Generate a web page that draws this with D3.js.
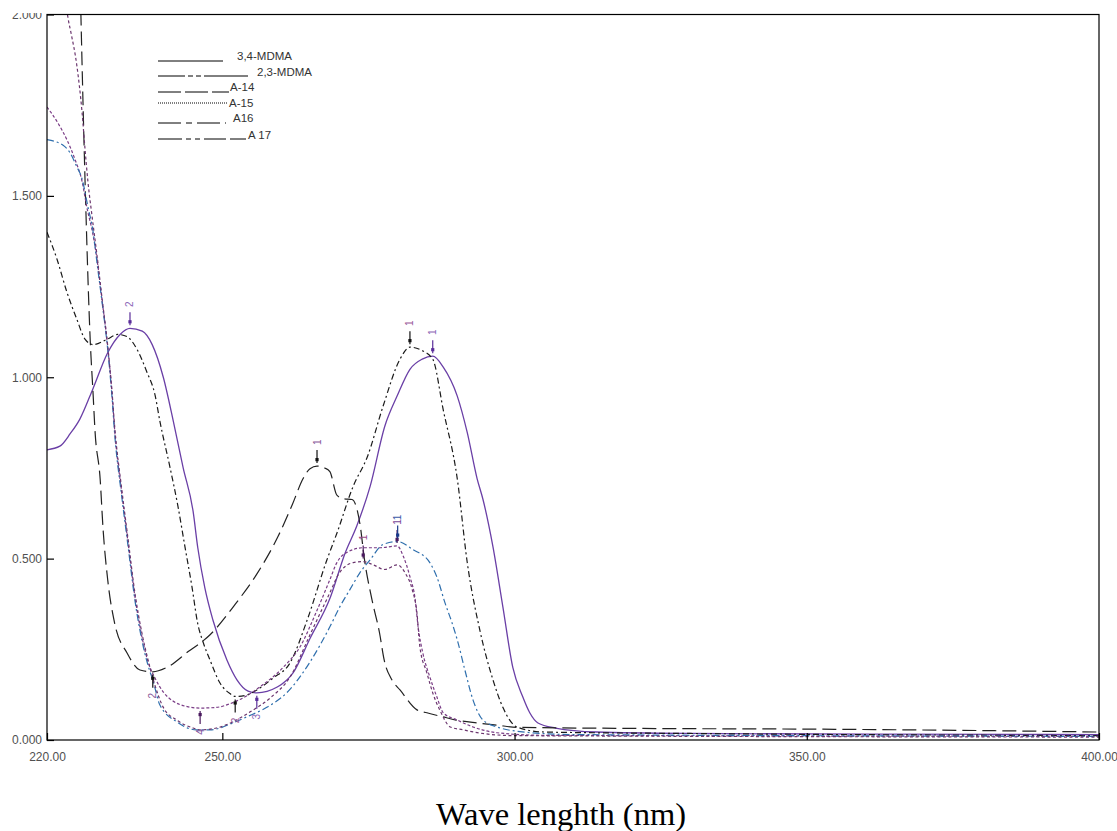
<!DOCTYPE html>
<html>
<head>
<meta charset="utf-8">
<script src="https://cdn.jsdelivr.net/npm/d3@7"></script>
<style>
  html, body { margin: 0; padding: 0; background: #fff; }
  svg { display: block; }
</style>
</head>
<body>
<svg id="chart" width="1117" height="831"></svg>
<script>
// ---------------- DATA (wavelength nm, absorbance) ----------------
const xTicks = [220, 250, 300, 350, 400];
const yTicks = [0, 0.5, 1.0, 1.5, 2.0];
const xTitle = "Wave lenghth (nm)";

const legendNames = ["3,4-MDMA", "2,3-MDMA", "A-14", "A-15", "A16", "A 17"];

// 3,4-MDMA (solid purple)
const mdma34 = [[220,0.80],[222.2,0.81],[224,0.845],[225.6,0.884],[227.9,0.97],[230.3,1.065],[232.5,1.118],[234.2,1.135],[236.3,1.127],[238,1.09],[239.9,1.0],[241.6,0.88],[243.3,0.75],[245,0.63],[245.8,0.53],[247,0.42],[248.4,0.33],[250.8,0.22],[252.5,0.166],[254.4,0.135],[255.9,0.13],[259.4,0.146],[262.1,0.185],[265,0.28],[268.4,0.39],[271,0.515],[273,0.59],[275.3,0.70],[277.8,0.865],[279.9,0.948],[282.1,1.022],[284.2,1.05],[286,1.058],[287.8,1.028],[290.2,0.948],[291.9,0.848],[293.6,0.72],[294.6,0.663],[296.3,0.533],[298,0.367],[299.7,0.20],[301.4,0.119],[302.6,0.075],[304,0.047],[307,0.033],[314,0.022],[330,0.018],[360,0.016],[400,0.015]];

// 2,3-MDMA (black dash-dot)
const mdma23 = [[220,1.40],[221.7,1.326],[223.4,1.235],[225.1,1.16],[226.5,1.105],[227.9,1.09],[230.3,1.105],[232.1,1.118],[233.7,1.112],[235.4,1.077],[237.1,1.014],[238.5,0.95],[239.3,0.88],[241,0.755],[242.4,0.645],[243.6,0.533],[244.8,0.423],[245.8,0.32],[246.7,0.27],[247.9,0.22],[249.6,0.157],[251.3,0.128],[252.2,0.12],[254.2,0.124],[255.9,0.138],[258.7,0.171],[261.6,0.213],[264.5,0.33],[267.9,0.497],[269.6,0.57],[272.4,0.70],[274.8,0.78],[277.5,0.92],[280.4,1.05],[282.1,1.083],[284,1.075],[286,1.05],[287.8,0.91],[290.2,0.72],[291.9,0.49],[294.1,0.30],[296.3,0.166],[298,0.09],[300.4,0.036],[305,0.022],[330,0.018],[400,0.012]];

// A-14 (black long dash)
const a14 = [[225.2,2.45],[225.8,2.0],[226.6,1.49],[227.4,1.10],[227.9,0.95],[228.2,0.856],[229.1,0.718],[229.6,0.58],[230.4,0.44],[231.6,0.32],[233.7,0.24],[235.9,0.193],[238.1,0.188],[240.5,0.20],[244.1,0.243],[247.9,0.29],[252,0.37],[256,0.46],[259.5,0.56],[262,0.65],[263.8,0.72],[265,0.748],[266.2,0.755],[267.5,0.75],[268.4,0.74],[269.6,0.675],[270.8,0.665],[272.2,0.663],[273.6,0.59],[274.3,0.50],[275.6,0.387],[276.9,0.295],[277.7,0.22],[279,0.166],[280.4,0.138],[283.3,0.083],[285,0.075],[287.7,0.064],[290,0.055],[293.5,0.047],[297,0.041],[300.4,0.035],[320,0.032],[350,0.03],[380,0.026],[400,0.022]];

// A-15 (purple dotted)
const a15 = [[220,1.745],[221.9,1.70],[223.4,1.655],[224.8,1.60],[226,1.54],[226.8,1.47],[227.9,1.39],[228.6,1.32],[229.4,1.215],[230.3,1.097],[231.1,0.96],[231.6,0.85],[232.8,0.68],[233.9,0.54],[235,0.40],[236.3,0.28],[237.3,0.215],[238.5,0.17],[240,0.13],[241.5,0.108],[244,0.092],[246.2,0.088],[249,0.09],[251.8,0.103],[254.2,0.122],[256.4,0.146],[260.4,0.20],[263.3,0.257],[266,0.35],[268.4,0.442],[269.6,0.489],[271.3,0.517],[274.1,0.53],[277,0.53],[279.9,0.535],[281,0.505],[282.1,0.45],[283,0.387],[283.5,0.312],[284.3,0.24],[285.5,0.174],[286.7,0.119],[287.8,0.075],[290.2,0.055],[292.9,0.036],[297,0.02],[305,0.013],[400,0.01]];

// A16 (blue dash-dot)
const a16 = [[220,1.655],[222.7,1.64],[223.9,1.62],[225.1,1.58],[226,1.547],[227,1.47],[227.9,1.40],[228.6,1.31],[229.4,1.21],[230.3,1.09],[231.1,0.95],[231.6,0.84],[232.8,0.67],[233.9,0.53],[235,0.39],[236.3,0.27],[237.3,0.205],[238.2,0.16],[239.3,0.097],[242.2,0.05],[245.6,0.028],[247.9,0.028],[251.8,0.047],[254.2,0.064],[257.6,0.09],[261,0.13],[265,0.215],[268.4,0.312],[270.1,0.367],[271.8,0.414],[273.5,0.46],[275.3,0.497],[277.5,0.539],[280,0.547],[282.6,0.525],[285.5,0.489],[286.7,0.45],[288.1,0.378],[289.3,0.323],[290.2,0.276],[291.5,0.193],[292.9,0.11],[294.6,0.055],[297,0.036],[300,0.025],[310,0.015],[400,0.01]];

// A 17 (purple dashed)
const a17 = [[222.5,2.15],[223.6,1.99],[224.1,1.95],[225.1,1.86],[226,1.73],[226.5,1.63],[227,1.54],[227.7,1.445],[228.6,1.33],[229.4,1.22],[230.3,1.10],[231.1,0.965],[231.6,0.86],[232.8,0.69],[233.9,0.55],[235,0.41],[236.3,0.29],[237.3,0.22],[238.3,0.16],[239.9,0.09],[242.2,0.055],[245,0.033],[246.2,0.028],[249,0.033],[251.8,0.05],[254.7,0.077],[258.2,0.116],[261.6,0.174],[265,0.29],[268.4,0.406],[270,0.46],[272.4,0.489],[274.1,0.492],[275.8,0.483],[277.8,0.47],[279.9,0.483],[281.3,0.46],[282.5,0.414],[283.3,0.35],[283.8,0.257],[285,0.185],[286,0.13],[287.2,0.083],[289,0.036],[291.2,0.028],[294.1,0.019],[300,0.012],[400,0.008]];

// peak / valley markers: [series index, nm, absorbance, kind, label]
const markers = [
  [0, 234.2, 1.135, "peak", "2"],
  [0, 255.9, 0.13, "min", "3"],
  [0, 286.0, 1.058, "peak", "1"],
  [1, 252.2, 0.12, "min", "2"],
  [1, 282.1, 1.083, "peak", "1"],
  [2, 238.1, 0.188, "min", "2"],
  [2, 266.2, 0.755, "peak", "1"],
  [3, 246.2, 0.088, "min", "4"],
  [3, 279.9, 0.535, "peak", "1"],
  [4, 280.0, 0.547, "peak", "1"],
  [5, 274.1, 0.492, "peak", "1"]
];

// ---------------- STYLES ----------------
const seriesData = [mdma34, mdma23, a14, a15, a16, a17];
const seriesStyle = [
  { color: "#6a3fa6", dash: null, width: 1.3 },
  { color: "#1a1a1a", dash: "6,3,2,3", width: 1.2 },
  { color: "#222222", dash: "14,6", width: 1.2 },
  { color: "#7a3c86", dash: "3,2", width: 1.2 },
  { color: "#2f6fad", dash: "7,3,2,3", width: 1.2 },
  { color: "#6b356e", dash: "3,2.5", width: 1.2 }
];
const markerColor = ["#5a2d9a", "#111111", "#111111", "#4a1a5e", "#1a3a8a", "#4a1a5e"];
const labelColor = ["#8c66b8", "#9a5a9a", "#8a5a9a", "#7a4a9a", "#3c5aa8", "#9a4a8a"];

const legendDash = [null, "27,3,5,3,5,3,45", "23,4", "1,1", "23,5,6,5", "24,4,5,4,5,4,22,4,20"];
const legendLineY = [61, 76, 92, 103, 123, 139];
const legendTextY = [60, 76, 91, 107, 122, 139];
const legendTextX = [237, 257, 230, 229, 233, 248];
const legendLineEnd = [223, 248, 229, 228, 226, 246];

// ---------------- CHART ----------------
const svg = d3.select("#chart");
const L = 47, R = 1099, T = 14.5, B = 740;
const x = d3.scaleLinear().domain([220, 400]).range([L, R]);
const y = d3.scaleLinear().domain([0, 2]).range([B, T]);

const defs = svg.append("defs");
defs.append("clipPath").attr("id", "plotClip")
  .append("rect").attr("x", L).attr("y", T).attr("width", R - L).attr("height", B - T);
// local coords of the y-axis group (translated by L)
defs.append("clipPath").attr("id", "yLabClip")
  .append("rect").attr("x", -60).attr("y", 13).attr("width", 80).attr("height", 800);

svg.append("rect").attr("width", 1117).attr("height", 831).attr("fill", "#fff");

// curves
const line = d3.line().x(d => x(d[0])).y(d => y(d[1])).curve(d3.curveMonotoneX);
const plot = svg.append("g").attr("clip-path", "url(#plotClip)");
seriesData.forEach((data, i) => {
  const st = seriesStyle[i];
  plot.append("path")
    .datum(data)
    .attr("d", line)
    .attr("fill", "none")
    .attr("stroke", st.color)
    .attr("stroke-width", st.width)
    .attr("stroke-dasharray", st.dash)
    .attr("stroke-linejoin", "round");
});

// markers
const mg = svg.append("g");
markers.forEach(m => {
  const [si, nm, v, kind, lab] = m;
  const cx = x(nm), cy = y(v);
  const c = markerColor[si];
  const s = kind === "peak" ? -1 : 1;
  mg.append("line")
    .attr("x1", cx).attr("x2", cx)
    .attr("y1", cy + s * 3).attr("y2", cy + s * 16)
    .attr("stroke", c).attr("stroke-width", 1.2);
  mg.append("rect")
    .attr("x", cx - 1.6).attr("y", cy + s * 6.5 - 1.6)
    .attr("width", 3.2).attr("height", 3.2)
    .attr("fill", c);
  mg.append("text")
    .attr("transform", `translate(${cx},${cy + s * 24}) rotate(-90)`)
    .attr("text-anchor", "middle")
    .attr("dominant-baseline", "central")
    .attr("font-family", "Liberation Sans, Arial, sans-serif")
    .attr("font-size", 10)
    .attr("fill", labelColor[si])
    .text(lab);
});

// axes
const fontTick = "Liberation Sans, Arial, sans-serif";
const yAxis = svg.append("g")
  .attr("transform", `translate(${L},0)`)
  .attr("clip-path", "url(#yLabClip)")
  .call(d3.axisLeft(y).tickValues(yTicks).tickSize(-7).tickPadding(5).tickFormat(d3.format(".3f")));
const xAxis = svg.append("g")
  .attr("transform", `translate(0,${B})`)
  .call(d3.axisBottom(x).tickValues(xTicks).tickSize(-7).tickPadding(12).tickFormat(d3.format(".2f")));
[yAxis, xAxis].forEach(g => {
  g.select(".domain").remove();
  g.selectAll(".tick line").attr("stroke", "#000").attr("stroke-width", 1.2);
  g.selectAll(".tick text")
    .attr("font-family", fontTick)
    .attr("font-size", 12)
    .attr("fill", "#505050");
});

// frame
svg.append("rect")
  .attr("x", L).attr("y", T).attr("width", R - L).attr("height", B - T)
  .attr("fill", "none").attr("stroke", "#000").attr("stroke-width", 1.2);

// legend
const lg = svg.append("g");
legendNames.forEach((name, i) => {
  lg.append("line")
    .attr("x1", 158).attr("x2", legendLineEnd[i])
    .attr("y1", legendLineY[i]).attr("y2", legendLineY[i])
    .attr("stroke", "#000").attr("stroke-width", 1)
    .attr("stroke-dasharray", legendDash[i]);
  lg.append("text")
    .attr("x", legendTextX[i]).attr("y", legendTextY[i])
    .attr("font-family", fontTick)
    .attr("font-size", 11.5)
    .attr("fill", "#333")
    .text(name);
});

// x title
svg.append("text")
  .attr("x", 561).attr("y", 825)
  .attr("text-anchor", "middle")
  .attr("font-family", "Liberation Serif, Times New Roman, serif")
  .attr("font-size", 32.5)
  .attr("fill", "#000")
  .text(xTitle);
</script>
</body>
</html>
